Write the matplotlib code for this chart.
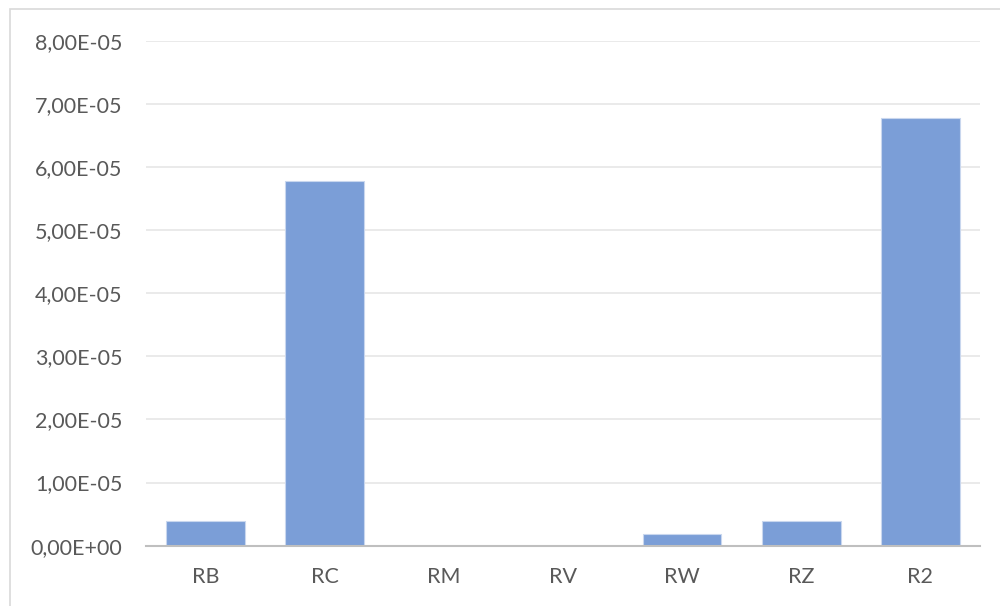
import matplotlib
matplotlib.use("Agg")
import matplotlib.pyplot as plt
from matplotlib.patches import Rectangle
from matplotlib.ticker import FuncFormatter, MultipleLocator

categories = ["RB", "RC", "RM", "RV", "RW", "RZ", "R2"]
values = [3.97e-06, 5.77e-05, 0.0, 0.0, 1.8e-06, 3.9e-06, 6.77e-05]

W, H = 1000, 606
fig = plt.figure(figsize=(W / 100, H / 100), dpi=100)
fig.patch.set_facecolor("white")

# chart-area border (open to the right and bottom)
fig.patches.append(Rectangle((9.5 / W, -0.1), 2.0, 1.1 - 9.5 / H,
                             transform=fig.transFigure, fill=False,
                             edgecolor="#D9D9D9", linewidth=1.2, zorder=0))

ax = fig.add_axes([146 / W, 1 - 545.7 / H, (980 - 146) / W, (545.7 - 40.7) / H])

ax.bar(range(len(categories)), values, width=0.66, color="#7B9ED7",
       edgecolor="#C9D7EE", linewidth=0.8, zorder=3)

ax.set_xlim(-0.5, len(categories) - 0.5)
ax.set_ylim(0, 8e-05)
ax.yaxis.set_major_locator(MultipleLocator(1e-05))
ax.yaxis.set_major_formatter(FuncFormatter(lambda v, p: f"{v:.2E}".replace(".", ",")))
ax.set_xticks(range(len(categories)))
ax.set_xticklabels(categories)

ax.grid(axis="y", color="#E6E6E6", linewidth=1.2, zorder=0)
for s in ["top", "right", "left"]:
    ax.spines[s].set_visible(False)
ax.spines["bottom"].set_color("#BFBFBF")
ax.spines["bottom"].set_linewidth(1.5)
ax.spines["bottom"].set_zorder(4)

ax.tick_params(axis="both", length=0, labelsize=15.5, labelcolor="#595959")
ax.tick_params(axis="y", pad=17)
ax.tick_params(axis="x", pad=15)
for lbl in ax.get_xticklabels() + ax.get_yticklabels():
    lbl.set_fontfamily(["Lato", "DejaVu Sans"])

fig.savefig("out.png", dpi=100, facecolor="white")
